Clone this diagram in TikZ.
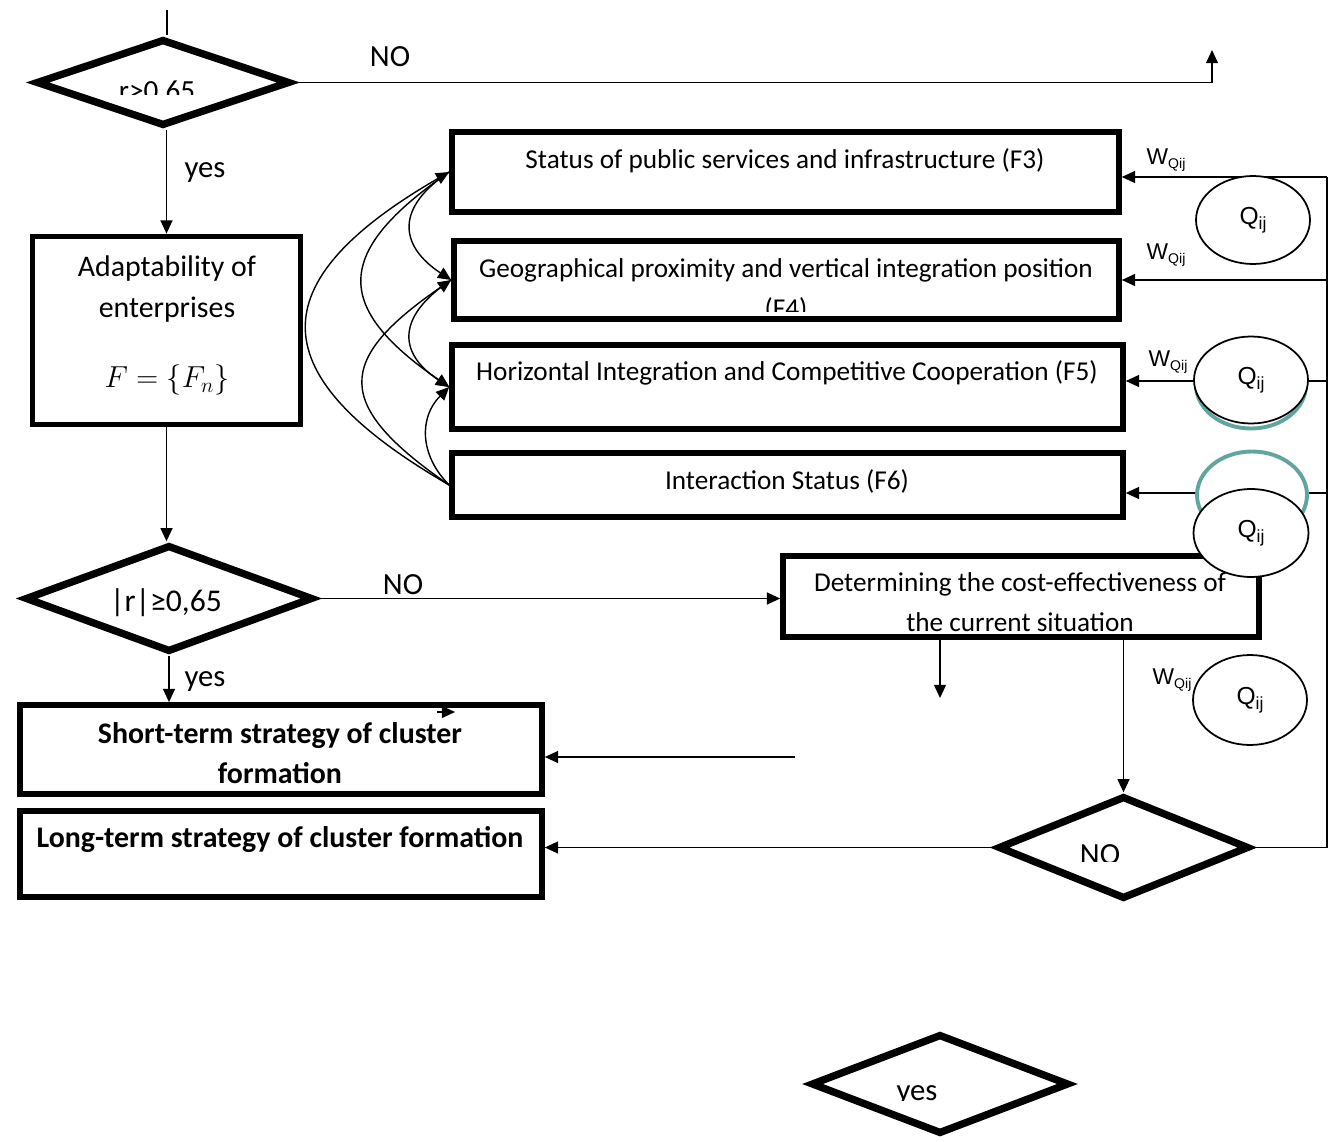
\documentclass[tikz,border=0pt]{standalone}
\usepackage{fontspec}
\setmainfont{Carlito}
\newfontfamily\arialfont{Liberation Sans}
\usetikzlibrary{arrows.meta,shapes.geometric}
\definecolor{ringteal}{RGB}{96,165,158}

\begin{document}
\begin{tikzpicture}[x=0.02cm,y=0.02cm,
    >={Triangle[length=7.5pt,width=6.8pt]},
    conn/.style={line width=0.8pt},
    conarr/.style={line width=0.8pt,->},
    box/.style={draw,line width=3.3pt,inner sep=0pt},
    decision/.style={draw,diamond,line width=4.2pt,inner sep=0pt},
    qnode/.style={draw,ellipse,line width=1pt,fill=white,inner sep=0pt,minimum width=2.28cm,minimum height=1.76cm,font=\arialfont\fontsize{14}{14}\selectfont},
    tealring/.style={draw=ringteal,ellipse,line width=2.2pt,fill=white,inner sep=0pt,minimum width=2.2cm,minimum height=1.74cm},
    txt/.style={inner sep=0pt,font=\fontsize{15.5}{22.5}\selectfont},
    lab/.style={inner sep=0pt,font=\fontsize{17.5}{22.5}\selectfont},
    btxt/.style={inner sep=0pt,font=\bfseries\fontsize{17}{22.7}\selectfont},
    wlab/.style={inner sep=0pt,font=\arialfont\fontsize{13}{13}\selectfont}]
    \useasboundingbox (0,0) rectangle (1328,-1142);

    % decisions
    \node[decision,minimum width=5.08cm,minimum height=1.74cm] (d1) at (163,-82.5) {};
    \node[decision,minimum width=5.76cm,minimum height=2.14cm] (d2) at (169,-598.5) {};
    \node[decision,minimum width=5.02cm,minimum height=2.06cm] (d3) at (1123.5,-847.5) {};
    \node[decision,minimum width=5.16cm,minimum height=2cm] (d4) at (940,-1084) {};

    % boxes
    \node[box,minimum width=5.36cm,minimum height=3.76cm] (adapt) at (166.5,-330.5) {};
    \node[box,minimum width=13.34cm,minimum height=1.6cm] (f3) at (785.5,-172) {};
    \node[box,minimum width=13.3cm,minimum height=1.56cm] (f4) at (786.5,-280) {};
    \node[box,minimum width=13.42cm,minimum height=1.68cm] (f5) at (787.5,-387) {};
    \node[box,minimum width=13.42cm,minimum height=1.28cm] (f6) at (787.5,-485) {};
    \node[box,minimum width=9.52cm,minimum height=1.62cm] (det) at (1021,-596.5) {};
    \node[box,minimum width=10.44cm,minimum height=1.78cm] (short) at (281,-749.5) {};
    \node[box,minimum width=10.44cm,minimum height=1.72cm] (long) at (281,-854) {};

    % texts
    \begin{scope}
        \clip (100,-60) rectangle (220,-95);
        \node[lab,font=\fontsize{16.6}{20}\selectfont,anchor=base] (d1txt) at (157,-101) {r>0,65};
    \end{scope}
    \node[lab] (notop) at (390,-57) {NO};
    \node[lab] (yes1) at (205,-173) {yes};
    \node[inner sep=0pt,align=center,font=\fontsize{17}{23.2}\selectfont] (adtxt) at (167,-289) {Adaptability of\\enterprises};
    \node[inner sep=0pt,font=\fontsize{18}{20}\selectfont] (fset) at (167,-380) {$F=\left\{F_{n}\right\}$};
    \node[txt] (f3txt) at (785,-161) {Status of public services and infrastructure (F3)};
    \node[txt,anchor=base] (f4txt) at (786,-277) {Geographical proximity and vertical integration position};
    \begin{scope}
        \clip (700,-290) rectangle (870,-311);
        \node[txt,anchor=base] (f4more) at (786,-317) {(F4)};
    \end{scope}
    \node[txt] (f5txt) at (787,-373) {Horizontal Integration and Competitive Cooperation (F5)};
    \node[txt] (f6txt) at (787,-481) {Interaction Status (F6)};
    \node[lab,font=\fontsize{18}{22}\selectfont] (d2txt) at (166,-603) {|r|≥0,65};
    \node[lab] (nomid) at (403,-585) {NO};
    \node[txt,align=center] (dettxt) at (1020,-602) {Determining the cost-effectiveness of\\the current situation};
    \node[lab] (yes2) at (205,-682) {yes};
    \node[btxt,align=center] (shorttxt) at (280,-753) {Short-term strategy of cluster\\formation};
    \node[btxt] (longtxt) at (280,-840) {Long-term strategy of cluster formation};
    \begin{scope}
        \clip (1040,-830) rectangle (1160,-861);
        \node[lab,anchor=base] (d3txt) at (1100,-864) {NO};
    \end{scope}
    \begin{scope}
        \clip (860,-1060) rectangle (980,-1100);
        \node[lab,anchor=base] (d4txt) at (917,-1100) {yes};
    \end{scope}

    % connectors
    \coordinate (entry) at (167,-10);
    \coordinate (noup) at (1212,-50);
    \draw[conn] (entry) -- (entry |- d1.north);
    \draw[conarr] (d1.east) -| (noup);
    \draw[conarr] (adapt.north |- d1.south) -- (adapt.north);
    \draw[conarr] (adapt.south) -- (adapt.south |- d2.north);
    \draw[conarr] (d2.east) -- (d2.east -| det.west);
    \draw[conarr] (d2.south) -- (d2.south |- short.north);
    \coordinate (stubA) at (437,-712);
    \coordinate (stubB) at (455,-712);
    \draw[conarr] (stubA) -- (stubB);
    \coordinate (midL) at (795,-757);
    \draw[conarr] (midL) -- (midL -| short.east);
    \coordinate (detout) at (940,-698);
    \draw[conarr] (det.south -| detout) -- (detout);
    \draw[conarr] (det.south -| d3.north) -- (d3.north);
    \draw[conarr] (d3.west) -- (d3.west -| long.east);

    % feedback from the right
    \coordinate (r3) at (1327,-177);
    \coordinate (r4) at (1327,-280);
    \coordinate (r5) at (1327,-381);
    \coordinate (r6) at (1327,-493);
    \draw[conn] (d3.east) -| (r3);
    \draw[conarr] (r3) -- (r3 -| f3.east);
    \draw[conarr] (r4) -- (r4 -| f4.east);
    \draw[conarr] (r5) -- (r5 -| f5.east);
    \draw[conarr] (r6) -- (r6 -| f6.east);

    % links between factors
    \draw[conarr] (f6.west) .. controls +(-190,110) and +(-190,-110) .. (f3.west);
    \draw[conarr] (f3.west) .. controls +(-116,-80) and +(-116,80) .. (f5.west);
    \draw[conarr] (f6.west) .. controls +(-116,80) and +(-116,-80) .. (f4.west);
    \draw[conarr] (f3.west) .. controls +(-53,-35) and +(-53,35) .. (f4.west);
    \draw[conarr] (f4.west) .. controls +(-53,-35) and +(-53,35) .. (f5.west);
    \draw[conarr] (f6.west) .. controls +(-30,30) and +(-30,-30) .. (f5.west);

    % weights
    \node[qnode] (q1) at (1253,-220) {Q\raisebox{-0.35ex}{\fontsize{10}{10}\selectfont ij}};
    \node[tealring] (q2shade) at (1251,-385) {};
    \node[qnode,minimum height=1.74cm] (q2) at (1251,-380) {Q\raisebox{-0.35ex}{\fontsize{10}{10}\selectfont ij}};
    \node[tealring] (q3ring) at (1252,-495) {};
    \node[qnode,minimum width=2.3cm] (q3) at (1251,-533) {Q\raisebox{-0.35ex}{\fontsize{10}{10}\selectfont ij}};
    \node[qnode,minimum height=1.8cm] (q4) at (1250,-700) {Q\raisebox{-0.35ex}{\fontsize{10}{10}\selectfont ij}};
    \node[wlab] (w3) at (1166,-160) {W\raisebox{-0.3ex}{\fontsize{8}{8}\selectfont Qij}};
    \node[wlab] (w4) at (1166,-255) {W\raisebox{-0.3ex}{\fontsize{8}{8}\selectfont Qij}};
    \node[wlab] (w5) at (1168,-362) {W\raisebox{-0.3ex}{\fontsize{8}{8}\selectfont Qij}};
    \node[wlab] (w7) at (1172,-680) {W\raisebox{-0.3ex}{\fontsize{8}{8}\selectfont Qij}};
\end{tikzpicture}
\end{document}
